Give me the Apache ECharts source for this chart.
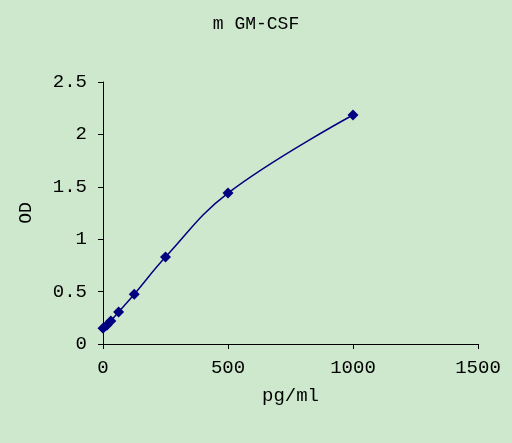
<!DOCTYPE html>
<html><head><meta charset="utf-8">
<script src="https://cdn.jsdelivr.net/npm/echarts@6/dist/echarts.min.js"></script>
<style>html,body{margin:0;padding:0;background:#cde8cd}#c{width:512px;height:443px}</style>
</head><body><div id="c"></div>
<script>
const concentrations = [0, 15.6, 31.25, 62.5, 125, 250, 500, 1000];
const odValues = [0.15, 0.18, 0.22, 0.305, 0.475, 0.83, 1.44, 2.185];
const xTicks = [0, 500, 1000, 1500];
const yTicks = [0, 0.5, 1, 1.5, 2, 2.5];
const font = "'Liberation Mono', 'DejaVu Sans Mono', monospace";
const chart = echarts.init(document.getElementById('c'));
chart.setOption({
  backgroundColor: '#cde8cd',
  animation: false,
  title: {text: 'm GM-CSF', left: 'center', top: 10, textStyle: {fontFamily: font, fontSize: 18, fontWeight: 'normal', color: '#000'}},
  grid: {left: 103, right: 34, top: 82, bottom: 99},
  xAxis: {type: 'value', min: 0, max: 1500, interval: 500, name: 'pg/ml', nameLocation: 'middle', nameGap: 42,
    nameTextStyle: {fontFamily: font, fontSize: 19, color: '#000'},
    axisLine: {lineStyle: {color: '#000'}}, axisTick: {show: true, lineStyle: {color: '#000'}},
    axisLabel: {fontFamily: font, fontSize: 19, color: '#000', margin: 14, formatter: v => String(v)}, splitLine: {show: false}},
  yAxis: {type: 'value', min: 0, max: 2.5, interval: 0.5, name: 'OD', nameLocation: 'middle', nameGap: 68,
    nameTextStyle: {fontFamily: font, fontSize: 18, color: '#000'},
    axisLine: {show: true, lineStyle: {color: '#000'}}, axisTick: {show: true, lineStyle: {color: '#000'}},
    axisLabel: {fontFamily: font, fontSize: 19, color: '#000', margin: 16, formatter: v => String(v)}, splitLine: {show: false}},
  series: [{type: 'line', smooth: 0.4, data: concentrations.map((c, i) => [c, odValues[i]]),
    symbol: 'diamond', symbolSize: 11, lineStyle: {color: '#000080', width: 1.5}, itemStyle: {color: '#000080'}}]
});
</script></body></html>
